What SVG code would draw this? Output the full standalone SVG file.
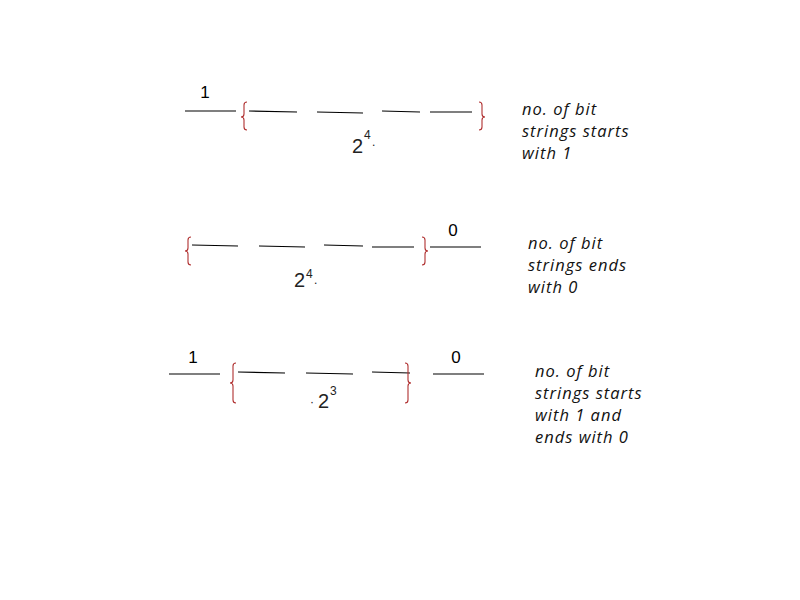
<svg xmlns="http://www.w3.org/2000/svg" width="800" height="600" viewBox="0 0 800 600">
<style>
.ln{stroke:#000;stroke-width:1.2;fill:none}
.br{stroke:#b03030;stroke-width:1.1;fill:none}
.num{font-family:"Liberation Sans",Arial,sans-serif;font-size:17px;fill:#000}
.big{font-family:"Liberation Sans",Arial,sans-serif;font-size:20px;fill:#222}
.sup{font-family:"Liberation Sans",Arial,sans-serif;font-size:12px;fill:#222}
.lbl{font-family:"Open Sans","Noto Sans",sans-serif;font-style:italic;font-size:16.5px;letter-spacing:1px;fill:#111}
</style>
<rect width="800" height="600" fill="#fff"/>
<g id="row1">
<text class="num" x="205" y="98" text-anchor="middle">1</text>
<line class="ln" x1="185" y1="111" x2="236" y2="111"/>
<path class="br" d="M247,102 Q244,102 244,105 L244,114 Q244,117 241,117 Q244,117 244,120 L244,127 Q244,130 247,130"/>
<line class="ln" x1="249" y1="111" x2="297" y2="112"/>
<line class="ln" x1="317" y1="112" x2="363" y2="113"/>
<line class="ln" x1="382" y1="111" x2="420" y2="112"/>
<line class="ln" x1="430" y1="112" x2="472" y2="112"/>
<path class="br" d="M479,102 Q482,102 482,105 L482,114 Q482,117 485,117 Q482,117 482,120 L482,127 Q482,130 479,130"/>
<text class="big" x="352" y="153">2</text>
<text class="sup" x="364" y="139">4</text>
<text class="sup" x="372" y="146">.</text>
<text class="lbl" x="522" y="115">no. of bit</text>
<text class="lbl" x="522" y="137">strings starts</text>
<text class="lbl" x="522" y="159">with 1</text>
</g>
<g id="row2">
<path class="br" d="M191,237 Q188,237 188,240 L188,248 Q188,251 185,251 Q188,251 188,254 L188,262 Q188,265 191,265"/>
<line class="ln" x1="192" y1="245" x2="238" y2="246"/>
<line class="ln" x1="259" y1="246" x2="305" y2="247"/>
<line class="ln" x1="324" y1="245" x2="363" y2="246"/>
<line class="ln" x1="372" y1="247" x2="414" y2="247"/>
<path class="br" d="M422,237 Q425,237 425,240 L425,248 Q425,251 428,251 Q425,251 425,254 L425,262 Q425,265 422,265"/>
<line class="ln" x1="430" y1="247" x2="481" y2="247"/>
<text class="num" x="453" y="236" text-anchor="middle">0</text>
<text class="big" x="294" y="287">2</text>
<text class="sup" x="306" y="278">4</text>
<text class="sup" x="314" y="284">.</text>
<text class="lbl" x="528" y="249">no. of bit</text>
<text class="lbl" x="528" y="271">strings ends</text>
<text class="lbl" x="528" y="293">with 0</text>
</g>
<g id="row3">
<text class="num" x="193" y="363" text-anchor="middle">1</text>
<line class="ln" x1="169" y1="374" x2="220" y2="374"/>
<path class="br" d="M236,363 Q233,363 233,366 L233,380 Q233,383 230,383 Q233,383 233,386 L233,400 Q233,403 236,403"/>
<line class="ln" x1="238" y1="372" x2="285" y2="373"/>
<line class="ln" x1="306" y1="373" x2="353" y2="374"/>
<line class="ln" x1="372" y1="372" x2="410" y2="373"/>
<path class="br" d="M405,363 Q408,363 408,366 L408,380 Q408,383 411,383 Q408,383 408,386 L408,400 Q408,403 405,403"/>
<line class="ln" x1="433" y1="374" x2="484" y2="374"/>
<text class="num" x="456" y="363" text-anchor="middle">0</text>
<text class="sup" x="310" y="406">·</text>
<text class="big" x="318" y="408">2</text>
<text class="sup" x="330" y="395">3</text>
<text class="lbl" x="535" y="377">no. of bit</text>
<text class="lbl" x="535" y="399">strings starts</text>
<text class="lbl" x="535" y="421">with 1 and</text>
<text class="lbl" x="535" y="443">ends with 0</text>
</g>
</svg>
